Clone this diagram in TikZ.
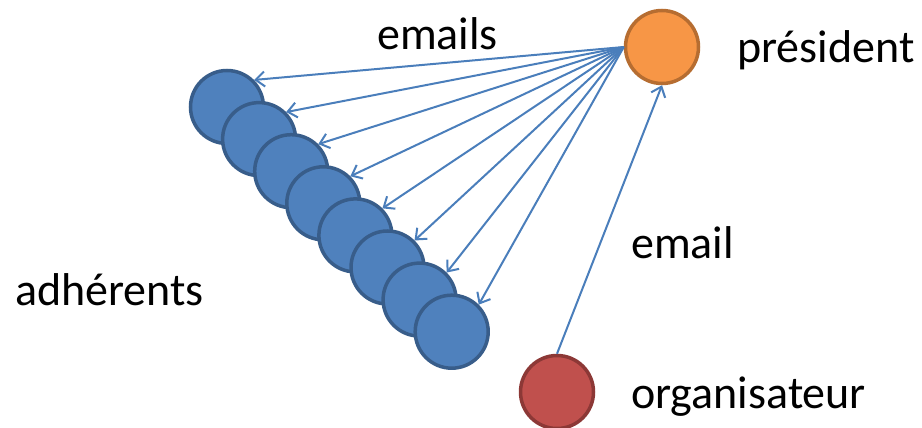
\documentclass[tikz,border=0pt]{standalone}
\usepackage{fontspec}
\setmainfont{Carlito}
\usetikzlibrary{arrows.meta}
\definecolor{bfill}{HTML}{4F81BD}
\definecolor{bdraw}{HTML}{385D8A}
\definecolor{ofill}{HTML}{F79646}
\definecolor{odraw}{HTML}{B66D31}
\definecolor{rfill}{HTML}{C0504D}
\definecolor{rdraw}{HTML}{8C3836}
\definecolor{arr}{HTML}{4A7EBB}
\tikzset{
  dot/.style={circle, inner sep=0pt, minimum size=73pt, line width=3.5pt},
  member/.style={dot, fill=bfill, draw=bdraw},
  pres/.style={dot, fill=ofill, draw=odraw},
  orga/.style={dot, fill=rfill, draw=rdraw},
  mail/.style={draw=arr, line width=2pt, -{Straight Barb[length=9pt, width=15pt, line width=2pt]}},
  lbl/.style={inner sep=0pt, anchor=base west, font=\fontsize{46}{50}\selectfont}
}
\begin{document}
\begin{tikzpicture}[x=1pt, y=-1pt]
\useasboundingbox (0,0) rectangle (922,428);
\foreach \i in {1,...,8} {
  \node[member] (m\i) at ({227+32.1*(\i-1)}, {107+32.1*(\i-1)}) {};
}
\node[pres] (p) at (662,47) {};
\node[orga] (o) at (557,392) {};
\foreach \i in {1,...,8} {
  \draw[mail] (p.west) -- (m\i.north east);
}
\draw[mail] (o.north) -- (p.south);
\node[lbl] (t1) at (377,50) {emails};
\node[lbl] (t2) at (737,63) {président};
\node[lbl] (t3) at (631,258) {email};
\node[lbl] (t4) at (631,408) {organisateur};
\node[lbl] (t5) at (15,305) {adhérents};
\end{tikzpicture}
\end{document}
